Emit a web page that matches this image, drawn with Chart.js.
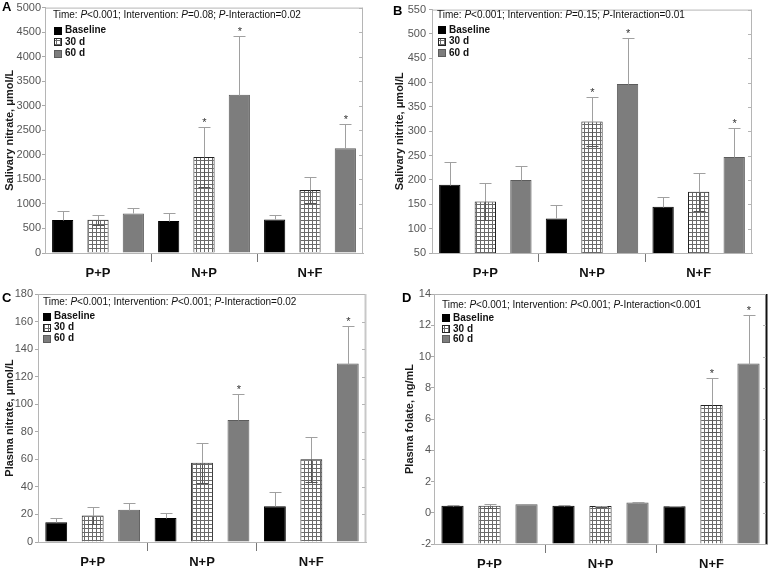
<!DOCTYPE html>
<html>
<head>
<meta charset="utf-8">
<script src="https://cdn.jsdelivr.net/npm/chart.js@4.4.1/dist/chart.umd.min.js"></script>
<style>
  html, body { margin: 0; padding: 0; background: #fff; }
  #wrap { position: relative; width: 768px; height: 568px; overflow: hidden; }
  .panel { position: absolute; width: 384px; height: 284px; }
</style>
</head>
<body>
<div id="wrap">
  <div class="panel" style="left:0;top:0"><canvas id="chartA" width="384" height="284"></canvas></div>
  <div class="panel" style="left:384px;top:0"><canvas id="chartB" width="384" height="284"></canvas></div>
  <div class="panel" style="left:0;top:284px"><canvas id="chartC" width="384" height="284"></canvas></div>
  <div class="panel" style="left:384px;top:284px"><canvas id="chartD" width="384" height="284"></canvas></div>
</div>
<script>
const FONT = '"Liberation Sans", Arial, Helvetica, sans-serif';

const groups = ['P+P', 'N+P', 'N+F'];
const seriesNames = ['Baseline', '30 d', '60 d'];

// A - salivary nitrate (µmol/L)
const aBaseline = [670, 650, 685];
const a30d = [680, 1955, 1285];
const a60d = [805, 3225, 2135];
const aErrBaseline = [190, 175, 95];
const aErr30d = [100, 610, 260];
const aErr60d = [115, 1200, 490];
const aStars = [[false, false, false], [false, true, false], [false, true, true]];
const aPvalues = ['<0.001', '=0.08', '=0.02'];

// B - salivary nitrite (µmol/L)
const bBaseline = [190, 121, 145];
const b30d = [156, 320, 176];
const b60d = [200, 397, 247];
const bErrBaseline = [47, 28, 21];
const bErr30d = [38, 51, 39];
const bErr60d = [29, 95, 60];
const bStars = [[false, false, false], [false, true, false], [false, true, true]];
const bPvalues = ['<0.001', '=0.15', '=0.01'];

// C - plasma nitrate (µmol/L)
const cBaseline = [14.3, 17.4, 26];
const c30d = [19.2, 57.5, 60];
const c60d = [23.4, 88.5, 129.5];
const cErrBaseline = [3.2, 3.5, 10];
const cErr30d = [6.2, 14.5, 16.5];
const cErr60d = [5, 19, 27];
const cStars = [[false, false, false], [false, false, false], [false, true, true]];
const cPvalues = ['<0.001', '<0.001', '=0.02'];

// D - plasma folate (ng/mL)
const dBaseline = [0.45, 0.45, 0.42];
const d30d = [0.45, 0.43, 6.9];
const d60d = [0.55, 0.65, 9.55];
const dErrBaseline = [0.05, 0.03, 0.02];
const dErr30d = [0.12, 0.03, 1.75];
const dErr60d = [0.04, 0.05, 3.1];
const dStars = [[false, false, false], [false, false, true], [false, false, true]];
const dPvalues = ['<0.001', '<0.001', '<0.001'];

Chart.defaults.font.family = FONT;
Chart.defaults.animation = false;

function hatchPattern(color) {
    const c = document.createElement('canvas');
    c.width = 4; c.height = 4;
    const g = c.getContext('2d');
    g.fillStyle = '#fff';
    g.fillRect(0, 0, 4, 4);
    g.fillStyle = color;
    g.fillRect(0, 0, 4, 1);
    g.fillRect(0, 0, 1, 4);
    return g.createPattern(c, 'repeat');
}

const HATCH = hatchPattern('#6a6a6a');
const BAR_STYLES = [
    { backgroundColor: '#000', borderColor: '#000' },
    { backgroundColor: HATCH, borderColor: '#222' },
    { backgroundColor: '#7d7d7d', borderColor: '#5c5c5c' },
];

// error bars: full line drawn over hatched bars, only the upper part shows on solid bars
const errorBars = {
    id: 'errorBars',
    afterDatasetsDraw(chart) {
        const ctx = chart.ctx;
        const y = chart.scales.y;
        ctx.save();
        ctx.lineWidth = 1;
        chart.data.datasets.forEach((ds, i) => {
            const solid = typeof ds.backgroundColor === 'string';
            chart.getDatasetMeta(i).data.forEach((bar, j) => {
                const v = ds.data[j], e = ds.errors[j];
                const x = Math.round(bar.x) + 0.5;
                const yt = Math.round(y.getPixelForValue(v + e)) + 0.5;
                const ym = Math.round(y.getPixelForValue(v)) + 0.5;
                const yb = Math.round(y.getPixelForValue(v - e)) + 0.5;
                ctx.strokeStyle = '#a0a0a0';
                ctx.beginPath();
                ctx.moveTo(x, ym); ctx.lineTo(x, yt);
                ctx.moveTo(x - 6, yt); ctx.lineTo(x + 6, yt);
                ctx.stroke();
                if (!solid) {
                    ctx.strokeStyle = '#555';
                    ctx.beginPath();
                    ctx.moveTo(x, ym); ctx.lineTo(x, yb);
                    ctx.moveTo(x - 6, yb); ctx.lineTo(x + 6, yb);
                    ctx.stroke();
                }
            });
        });
        ctx.fillStyle = '#333';
        ctx.font = '11px ' + FONT;
        ctx.textAlign = 'center';
        ctx.textBaseline = 'alphabetic';
        chart.data.datasets.forEach((ds, i) => {
            chart.getDatasetMeta(i).data.forEach((bar, j) => {
                if (!ds.stars[j]) return;
                const yt = y.getPixelForValue(ds.data[j] + ds.errors[j]);
                ctx.fillText('*', bar.x + 0.5, yt - 1);
            });
        });
        ctx.restore();
    },
};

// frame, panel letter, axis title, p-value note, legend
const decor = {
    id: 'decor',
    afterDraw(chart, args, o) {
        const ctx = chart.ctx;
        const a = chart.chartArea;
        const y = chart.scales.y;
        ctx.save();

        // frame
        ctx.strokeStyle = '#b5b5b5';
        ctx.lineWidth = 1;
        ctx.beginPath();
        ctx.moveTo(a.left + 0.5, a.top + 0.5);
        ctx.lineTo(a.right - 0.5, a.top + 0.5);
        ctx.stroke();
        ctx.strokeStyle = o.rightColor;
        ctx.lineWidth = o.rightWidth;
        ctx.beginPath();
        ctx.moveTo(a.right - 0.5, a.top);
        ctx.lineTo(a.right - 0.5, a.bottom);
        ctx.stroke();
        // small inward ticks on the right edge
        ctx.strokeStyle = '#b5b5b5';
        ctx.lineWidth = 1;
        y.ticks.forEach((t) => {
            const py = Math.round(y.getPixelForValue(t.value)) + 0.5;
            ctx.beginPath();
            ctx.moveTo(a.right - 1, py); ctx.lineTo(a.right - 4, py);
            ctx.stroke();
        });

        // panel letter
        ctx.fillStyle = '#000';
        ctx.font = 'bold 13px ' + FONT;
        ctx.textAlign = 'left';
        ctx.textBaseline = 'middle';
        ctx.fillText(o.letter, o.letterX, o.letterY);

        // axis title
        ctx.save();
        ctx.translate(o.titleX, (a.top + a.bottom) / 2);
        ctx.rotate(-Math.PI / 2);
        ctx.textAlign = 'center';
        ctx.font = 'bold 11px ' + FONT;
        ctx.fillStyle = '#1a1a1a';
        ctx.fillText(o.title, 0, 0);
        ctx.restore();

        // p-value note (P in italics)
        const p = o.pvalues;
        const parts = [
            ['Time: ', false], ['P', true], [p[0] + '; Intervention: ', false],
            ['P', true], [p[1] + '; ', false], ['P', true], ['-Interaction' + p[2], false],
        ];
        let x = o.noteX;
        ctx.fillStyle = '#111';
        ctx.textBaseline = 'middle';
        parts.forEach(([txt, it]) => {
            ctx.font = (it ? 'italic ' : '') + '10px ' + FONT;
            ctx.fillText(txt, x, o.noteY);
            x += ctx.measureText(txt).width;
        });

        // legend
        ctx.font = 'bold 10px ' + FONT;
        chart.data.datasets.forEach((ds, i) => {
            const cy = o.legendY + i * o.legendStep;
            const sx = o.legendX, sy = Math.round(cy - 4);
            ctx.fillStyle = ds.backgroundColor;
            ctx.fillRect(sx, sy, 8, 8);
            ctx.strokeStyle = ds.borderColor;
            ctx.strokeRect(sx + 0.5, sy + 0.5, 7, 7);
            ctx.fillStyle = '#111';
            ctx.fillText(ds.label, sx + 11, cy);
        });
        ctx.restore();
    },
};

function makeChart(cfg) {
    const datasets = cfg.means.map((m, i) => {
        const ds = {
            label: seriesNames[i],
            data: m,
            errors: cfg.errs[i],
            stars: cfg.stars[i],
            borderWidth: 1,
            ...BAR_STYLES[i],
        };
        if (cfg.base !== undefined) ds.base = cfg.base;
        return ds;
    });
    const ar = cfg.area;
    return new Chart(document.getElementById(cfg.id), {
        type: 'bar',
        data: { labels: groups, datasets },
        plugins: [errorBars, decor],
        options: {
            responsive: false,
            layout: { padding: { left: 0, right: 384 - ar.right, top: ar.top, bottom: 0 } },
            categoryPercentage: 1.0,
            barPercentage: 0.6,
            plugins: {
                legend: { display: false },
                tooltip: { enabled: false },
                decor: cfg.decor,
            },
            scales: {
                x: {
                    afterFit: (s) => { s.height = 284 - ar.bottom; },
                    border: { color: '#b5b5b5' },
                    grid: {
                        offset: true,
                        drawOnChartArea: false,
                        tickLength: 9,
                        color: (c) => (c.index > 0 && c.index < 3) ? '#777' : 'rgba(0,0,0,0)',
                    },
                    ticks: { padding: 4, color: '#111', font: { size: 13, weight: 'bold' } },
                },
                y: {
                    min: cfg.min,
                    max: cfg.max,
                    afterFit: (s) => { s.width = ar.left; },
                    border: { color: '#b5b5b5' },
                    grid: { drawOnChartArea: false, tickLength: 3, color: '#aaa' },
                    ticks: {
                        stepSize: cfg.step,
                        padding: cfg.tickPad,
                        color: '#555',
                        font: { size: 11 },
                        callback: (v) => String(v),
                    },
                },
            },
        },
    });
}

makeChart({
    id: 'chartA', min: 0, max: 5000, step: 500, tickPad: 1,
    area: { left: 45, right: 363, top: 6, bottom: 253 },
    means: [aBaseline, a30d, a60d], errs: [aErrBaseline, aErr30d, aErr60d], stars: aStars,
    decor: {
        letter: 'A', letterX: 2, letterY: 7, title: 'Salivary nitrate, μmol/L', titleX: 10,
        pvalues: aPvalues, noteX: 53, noteY: 15, legendX: 54, legendY: 30.5, legendStep: 11.5,
        rightColor: '#b5b5b5', rightWidth: 1,
    },
});

makeChart({
    id: 'chartB', min: 50, max: 550, step: 50, tickPad: 3,
    area: { left: 48, right: 368, top: 8, bottom: 253 },
    means: [bBaseline, b30d, b60d], errs: [bErrBaseline, bErr30d, bErr60d], stars: bStars,
    decor: {
        letter: 'B', letterX: 9, letterY: 11, title: 'Salivary nitrite, μmol/L', titleX: 16,
        pvalues: bPvalues, noteX: 53, noteY: 15, legendX: 54, legendY: 30, legendStep: 11.5,
        rightColor: '#b5b5b5', rightWidth: 1,
    },
});

makeChart({
    id: 'chartC', min: 0, max: 180, step: 20, tickPad: 2,
    area: { left: 38, right: 366, top: 10, bottom: 258 },
    means: [cBaseline, c30d, c60d], errs: [cErrBaseline, cErr30d, cErr60d], stars: cStars,
    decor: {
        letter: 'C', letterX: 2, letterY: 14, title: 'Plasma nitrate, μmol/L', titleX: 10,
        pvalues: cPvalues, noteX: 43, noteY: 18, legendX: 43, legendY: 32.7, legendStep: 11,
        rightColor: '#c8c8c8', rightWidth: 2,
    },
});

makeChart({
    id: 'chartD', min: -2, max: 14, step: 2, tickPad: 0, base: -2,
    area: { left: 50, right: 383, top: 10, bottom: 260 },
    means: [dBaseline, d30d, d60d], errs: [dErrBaseline, dErr30d, dErr60d], stars: dStars,
    decor: {
        letter: 'D', letterX: 18, letterY: 14, title: 'Plasma folate, ng/mL', titleX: 26,
        pvalues: dPvalues, noteX: 58, noteY: 21, legendX: 58, legendY: 34.3, legendStep: 10.5,
        rightColor: '#111', rightWidth: 2,
    },
});
</script>
</body>
</html>
